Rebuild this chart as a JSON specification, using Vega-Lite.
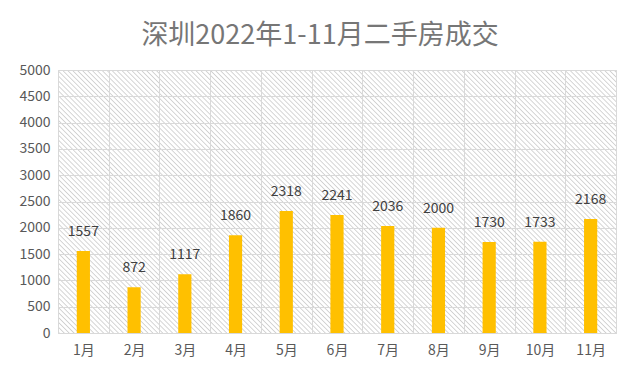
{
  "$schema": "https://vega.github.io/schema/vega-lite/v6.json",
  "width": 558,
  "height": 263,
  "autosize": {"type": "none"},
  "padding": {"left": 58, "top": 70, "right": 24, "bottom": 52},
  "background": "white",
  "title": {
    "text": "深圳2022年1-11月二手房成交",
    "fontSize": 27,
    "font": "Noto Sans CJK SC",
    "fontWeight": "normal",
    "color": "#767676",
    "offset": 13,
    "dx": -17
  },
  "data": {
    "values": [
      {"month": "1月", "value": 1557},
      {"month": "2月", "value": 872},
      {"month": "3月", "value": 1117},
      {"month": "4月", "value": 1860},
      {"month": "5月", "value": 2318},
      {"month": "6月", "value": 2241},
      {"month": "7月", "value": 2036},
      {"month": "8月", "value": 2000},
      {"month": "9月", "value": 1730},
      {"month": "10月", "value": 1733},
      {"month": "11月", "value": 2168}
    ]
  },
  "encoding": {
    "x": {
      "field": "month",
      "type": "nominal",
      "sort": null,
      "scale": {"paddingInner": 0, "paddingOuter": 0},
      "axis": {
        "title": null,
        "labelAngle": 0,
        "ticks": false,
        "domainColor": "#d9d9d9",
        "grid": true,
        "gridColor": "#d9d9d9",
        "tickBand": "extent",
        "labelFontSize": 14,
        "labelFont": "Noto Sans CJK SC",
        "labelColor": "#595959",
        "labelPadding": 10
      }
    },
    "y": {
      "field": "value",
      "type": "quantitative",
      "scale": {"domain": [0, 5000], "nice": false},
      "axis": {
        "title": null,
        "values": [0, 500, 1000, 1500, 2000, 2500, 3000, 3500, 4000, 4500, 5000],
        "format": "d",
        "ticks": false,
        "domain": false,
        "gridColor": "#d9d9d9",
        "labelFontSize": 14,
        "labelFont": "Noto Sans CJK SC",
        "labelColor": "#595959",
        "labelPadding": 8
      }
    }
  },
  "layer": [
    {"mark": {"type": "bar", "width": {"band": 0.26}, "color": "#FFC000"}},
    {
      "mark": {
        "type": "text",
        "dy": -15,
        "baseline": "alphabetic",
        "fontSize": 14,
        "font": "Noto Sans CJK SC",
        "color": "#404040"
      },
      "encoding": {"text": {"field": "value", "type": "quantitative"}}
    }
  ],
  "config": {
    "view": {
      "stroke": "#d9d9d9",
      "fill": {
        "gradient": "linear",
        "x1": 0, "y1": 1, "x2": 1.20389, "y2": 0.43257,
        "stops": [
{"offset":0,"color":"#fff"},{"offset":0.0015,"color":"#d0d0d0"},{"offset":0.003,"color":"#fff"},
{"offset":0.006,"color":"#fff"},{"offset":0.0075,"color":"#d0d0d0"},{"offset":0.009,"color":"#fff"},
{"offset":0.012,"color":"#fff"},{"offset":0.0135,"color":"#d0d0d0"},{"offset":0.015,"color":"#fff"},
{"offset":0.018,"color":"#fff"},{"offset":0.0195,"color":"#d0d0d0"},{"offset":0.021,"color":"#fff"},
{"offset":0.024,"color":"#fff"},{"offset":0.0255,"color":"#d0d0d0"},{"offset":0.027,"color":"#fff"},
{"offset":0.03,"color":"#fff"},{"offset":0.0315,"color":"#d0d0d0"},{"offset":0.033,"color":"#fff"},
{"offset":0.036,"color":"#fff"},{"offset":0.0375,"color":"#d0d0d0"},{"offset":0.039,"color":"#fff"},
{"offset":0.042,"color":"#fff"},{"offset":0.0435,"color":"#d0d0d0"},{"offset":0.045,"color":"#fff"},
{"offset":0.048,"color":"#fff"},{"offset":0.0495,"color":"#d0d0d0"},{"offset":0.051,"color":"#fff"},
{"offset":0.054,"color":"#fff"},{"offset":0.0555,"color":"#d0d0d0"},{"offset":0.057,"color":"#fff"},
{"offset":0.06,"color":"#fff"},{"offset":0.0615,"color":"#d0d0d0"},{"offset":0.063,"color":"#fff"},
{"offset":0.066,"color":"#fff"},{"offset":0.0675,"color":"#d0d0d0"},{"offset":0.069,"color":"#fff"},
{"offset":0.072,"color":"#fff"},{"offset":0.0735,"color":"#d0d0d0"},{"offset":0.075,"color":"#fff"},
{"offset":0.078,"color":"#fff"},{"offset":0.0795,"color":"#d0d0d0"},{"offset":0.081,"color":"#fff"},
{"offset":0.084,"color":"#fff"},{"offset":0.0855,"color":"#d0d0d0"},{"offset":0.087,"color":"#fff"},
{"offset":0.09,"color":"#fff"},{"offset":0.0915,"color":"#d0d0d0"},{"offset":0.093,"color":"#fff"},
{"offset":0.096,"color":"#fff"},{"offset":0.0975,"color":"#d0d0d0"},{"offset":0.099,"color":"#fff"},
{"offset":0.102,"color":"#fff"},{"offset":0.1035,"color":"#d0d0d0"},{"offset":0.105,"color":"#fff"},
{"offset":0.108,"color":"#fff"},{"offset":0.1095,"color":"#d0d0d0"},{"offset":0.111,"color":"#fff"},
{"offset":0.114,"color":"#fff"},{"offset":0.1155,"color":"#d0d0d0"},{"offset":0.117,"color":"#fff"},
{"offset":0.12,"color":"#fff"},{"offset":0.1215,"color":"#d0d0d0"},{"offset":0.123,"color":"#fff"},
{"offset":0.126,"color":"#fff"},{"offset":0.1275,"color":"#d0d0d0"},{"offset":0.129,"color":"#fff"},
{"offset":0.132,"color":"#fff"},{"offset":0.1335,"color":"#d0d0d0"},{"offset":0.135,"color":"#fff"},
{"offset":0.138,"color":"#fff"},{"offset":0.1395,"color":"#d0d0d0"},{"offset":0.141,"color":"#fff"},
{"offset":0.144,"color":"#fff"},{"offset":0.1455,"color":"#d0d0d0"},{"offset":0.147,"color":"#fff"},
{"offset":0.15,"color":"#fff"},{"offset":0.1515,"color":"#d0d0d0"},{"offset":0.153,"color":"#fff"},
{"offset":0.156,"color":"#fff"},{"offset":0.1575,"color":"#d0d0d0"},{"offset":0.159,"color":"#fff"},
{"offset":0.162,"color":"#fff"},{"offset":0.1635,"color":"#d0d0d0"},{"offset":0.165,"color":"#fff"},
{"offset":0.168,"color":"#fff"},{"offset":0.1695,"color":"#d0d0d0"},{"offset":0.171,"color":"#fff"},
{"offset":0.174,"color":"#fff"},{"offset":0.1755,"color":"#d0d0d0"},{"offset":0.177,"color":"#fff"},
{"offset":0.18,"color":"#fff"},{"offset":0.1815,"color":"#d0d0d0"},{"offset":0.183,"color":"#fff"},
{"offset":0.186,"color":"#fff"},{"offset":0.1875,"color":"#d0d0d0"},{"offset":0.189,"color":"#fff"},
{"offset":0.192,"color":"#fff"},{"offset":0.1935,"color":"#d0d0d0"},{"offset":0.195,"color":"#fff"},
{"offset":0.198,"color":"#fff"},{"offset":0.1995,"color":"#d0d0d0"},{"offset":0.201,"color":"#fff"},
{"offset":0.204,"color":"#fff"},{"offset":0.2055,"color":"#d0d0d0"},{"offset":0.207,"color":"#fff"},
{"offset":0.21,"color":"#fff"},{"offset":0.2115,"color":"#d0d0d0"},{"offset":0.213,"color":"#fff"},
{"offset":0.216,"color":"#fff"},{"offset":0.2175,"color":"#d0d0d0"},{"offset":0.219,"color":"#fff"},
{"offset":0.222,"color":"#fff"},{"offset":0.2235,"color":"#d0d0d0"},{"offset":0.225,"color":"#fff"},
{"offset":0.228,"color":"#fff"},{"offset":0.2295,"color":"#d0d0d0"},{"offset":0.231,"color":"#fff"},
{"offset":0.234,"color":"#fff"},{"offset":0.2355,"color":"#d0d0d0"},{"offset":0.237,"color":"#fff"},
{"offset":0.24,"color":"#fff"},{"offset":0.2415,"color":"#d0d0d0"},{"offset":0.243,"color":"#fff"},
{"offset":0.246,"color":"#fff"},{"offset":0.2475,"color":"#d0d0d0"},{"offset":0.249,"color":"#fff"},
{"offset":0.252,"color":"#fff"},{"offset":0.2535,"color":"#d0d0d0"},{"offset":0.255,"color":"#fff"},
{"offset":0.258,"color":"#fff"},{"offset":0.2595,"color":"#d0d0d0"},{"offset":0.261,"color":"#fff"},
{"offset":0.264,"color":"#fff"},{"offset":0.2655,"color":"#d0d0d0"},{"offset":0.267,"color":"#fff"},
{"offset":0.27,"color":"#fff"},{"offset":0.2715,"color":"#d0d0d0"},{"offset":0.273,"color":"#fff"},
{"offset":0.276,"color":"#fff"},{"offset":0.2775,"color":"#d0d0d0"},{"offset":0.279,"color":"#fff"},
{"offset":0.282,"color":"#fff"},{"offset":0.2835,"color":"#d0d0d0"},{"offset":0.285,"color":"#fff"},
{"offset":0.288,"color":"#fff"},{"offset":0.2895,"color":"#d0d0d0"},{"offset":0.291,"color":"#fff"},
{"offset":0.294,"color":"#fff"},{"offset":0.2955,"color":"#d0d0d0"},{"offset":0.297,"color":"#fff"},
{"offset":0.3,"color":"#fff"},{"offset":0.3015,"color":"#d0d0d0"},{"offset":0.303,"color":"#fff"},
{"offset":0.306,"color":"#fff"},{"offset":0.3075,"color":"#d0d0d0"},{"offset":0.309,"color":"#fff"},
{"offset":0.312,"color":"#fff"},{"offset":0.3135,"color":"#d0d0d0"},{"offset":0.315,"color":"#fff"},
{"offset":0.318,"color":"#fff"},{"offset":0.3195,"color":"#d0d0d0"},{"offset":0.321,"color":"#fff"},
{"offset":0.324,"color":"#fff"},{"offset":0.3255,"color":"#d0d0d0"},{"offset":0.327,"color":"#fff"},
{"offset":0.33,"color":"#fff"},{"offset":0.3315,"color":"#d0d0d0"},{"offset":0.333,"color":"#fff"},
{"offset":0.336,"color":"#fff"},{"offset":0.3375,"color":"#d0d0d0"},{"offset":0.339,"color":"#fff"},
{"offset":0.342,"color":"#fff"},{"offset":0.3435,"color":"#d0d0d0"},{"offset":0.345,"color":"#fff"},
{"offset":0.348,"color":"#fff"},{"offset":0.3495,"color":"#d0d0d0"},{"offset":0.351,"color":"#fff"},
{"offset":0.354,"color":"#fff"},{"offset":0.3555,"color":"#d0d0d0"},{"offset":0.357,"color":"#fff"},
{"offset":0.36,"color":"#fff"},{"offset":0.3615,"color":"#d0d0d0"},{"offset":0.363,"color":"#fff"},
{"offset":0.366,"color":"#fff"},{"offset":0.3675,"color":"#d0d0d0"},{"offset":0.369,"color":"#fff"},
{"offset":0.372,"color":"#fff"},{"offset":0.3735,"color":"#d0d0d0"},{"offset":0.375,"color":"#fff"},
{"offset":0.378,"color":"#fff"},{"offset":0.3795,"color":"#d0d0d0"},{"offset":0.381,"color":"#fff"},
{"offset":0.384,"color":"#fff"},{"offset":0.3855,"color":"#d0d0d0"},{"offset":0.387,"color":"#fff"},
{"offset":0.39,"color":"#fff"},{"offset":0.3915,"color":"#d0d0d0"},{"offset":0.393,"color":"#fff"},
{"offset":0.396,"color":"#fff"},{"offset":0.3975,"color":"#d0d0d0"},{"offset":0.399,"color":"#fff"},
{"offset":0.402,"color":"#fff"},{"offset":0.4035,"color":"#d0d0d0"},{"offset":0.405,"color":"#fff"},
{"offset":0.408,"color":"#fff"},{"offset":0.4095,"color":"#d0d0d0"},{"offset":0.411,"color":"#fff"},
{"offset":0.414,"color":"#fff"},{"offset":0.4155,"color":"#d0d0d0"},{"offset":0.417,"color":"#fff"},
{"offset":0.42,"color":"#fff"},{"offset":0.4215,"color":"#d0d0d0"},{"offset":0.423,"color":"#fff"},
{"offset":0.426,"color":"#fff"},{"offset":0.4275,"color":"#d0d0d0"},{"offset":0.429,"color":"#fff"},
{"offset":0.432,"color":"#fff"},{"offset":0.4335,"color":"#d0d0d0"},{"offset":0.435,"color":"#fff"},
{"offset":0.438,"color":"#fff"},{"offset":0.4395,"color":"#d0d0d0"},{"offset":0.441,"color":"#fff"},
{"offset":0.444,"color":"#fff"},{"offset":0.4455,"color":"#d0d0d0"},{"offset":0.447,"color":"#fff"},
{"offset":0.45,"color":"#fff"},{"offset":0.4515,"color":"#d0d0d0"},{"offset":0.453,"color":"#fff"},
{"offset":0.456,"color":"#fff"},{"offset":0.4575,"color":"#d0d0d0"},{"offset":0.459,"color":"#fff"},
{"offset":0.462,"color":"#fff"},{"offset":0.4635,"color":"#d0d0d0"},{"offset":0.465,"color":"#fff"},
{"offset":0.468,"color":"#fff"},{"offset":0.4695,"color":"#d0d0d0"},{"offset":0.471,"color":"#fff"},
{"offset":0.474,"color":"#fff"},{"offset":0.4755,"color":"#d0d0d0"},{"offset":0.477,"color":"#fff"},
{"offset":0.48,"color":"#fff"},{"offset":0.4815,"color":"#d0d0d0"},{"offset":0.483,"color":"#fff"},
{"offset":0.486,"color":"#fff"},{"offset":0.4875,"color":"#d0d0d0"},{"offset":0.489,"color":"#fff"},
{"offset":0.492,"color":"#fff"},{"offset":0.4935,"color":"#d0d0d0"},{"offset":0.495,"color":"#fff"},
{"offset":0.498,"color":"#fff"},{"offset":0.4995,"color":"#d0d0d0"},{"offset":0.501,"color":"#fff"},
{"offset":0.504,"color":"#fff"},{"offset":0.5055,"color":"#d0d0d0"},{"offset":0.507,"color":"#fff"},
{"offset":0.51,"color":"#fff"},{"offset":0.5115,"color":"#d0d0d0"},{"offset":0.513,"color":"#fff"},
{"offset":0.516,"color":"#fff"},{"offset":0.5175,"color":"#d0d0d0"},{"offset":0.519,"color":"#fff"},
{"offset":0.522,"color":"#fff"},{"offset":0.5235,"color":"#d0d0d0"},{"offset":0.525,"color":"#fff"},
{"offset":0.528,"color":"#fff"},{"offset":0.5295,"color":"#d0d0d0"},{"offset":0.531,"color":"#fff"},
{"offset":0.534,"color":"#fff"},{"offset":0.5355,"color":"#d0d0d0"},{"offset":0.537,"color":"#fff"},
{"offset":0.54,"color":"#fff"},{"offset":0.5415,"color":"#d0d0d0"},{"offset":0.543,"color":"#fff"},
{"offset":0.546,"color":"#fff"},{"offset":0.5475,"color":"#d0d0d0"},{"offset":0.549,"color":"#fff"},
{"offset":0.552,"color":"#fff"},{"offset":0.5535,"color":"#d0d0d0"},{"offset":0.555,"color":"#fff"},
{"offset":0.558,"color":"#fff"},{"offset":0.5595,"color":"#d0d0d0"},{"offset":0.561,"color":"#fff"},
{"offset":0.564,"color":"#fff"},{"offset":0.5655,"color":"#d0d0d0"},{"offset":0.567,"color":"#fff"},
{"offset":0.57,"color":"#fff"},{"offset":0.5715,"color":"#d0d0d0"},{"offset":0.573,"color":"#fff"},
{"offset":0.576,"color":"#fff"},{"offset":0.5775,"color":"#d0d0d0"},{"offset":0.579,"color":"#fff"},
{"offset":0.582,"color":"#fff"},{"offset":0.5835,"color":"#d0d0d0"},{"offset":0.585,"color":"#fff"},
{"offset":0.588,"color":"#fff"},{"offset":0.5895,"color":"#d0d0d0"},{"offset":0.591,"color":"#fff"},
{"offset":0.594,"color":"#fff"},{"offset":0.5955,"color":"#d0d0d0"},{"offset":0.597,"color":"#fff"},
{"offset":0.6,"color":"#fff"},{"offset":0.6015,"color":"#d0d0d0"},{"offset":0.603,"color":"#fff"},
{"offset":0.606,"color":"#fff"},{"offset":0.6075,"color":"#d0d0d0"},{"offset":0.609,"color":"#fff"},
{"offset":0.612,"color":"#fff"},{"offset":0.6135,"color":"#d0d0d0"},{"offset":0.615,"color":"#fff"},
{"offset":0.618,"color":"#fff"},{"offset":0.6195,"color":"#d0d0d0"},{"offset":0.621,"color":"#fff"},
{"offset":0.624,"color":"#fff"},{"offset":0.6255,"color":"#d0d0d0"},{"offset":0.627,"color":"#fff"},
{"offset":0.63,"color":"#fff"},{"offset":0.6315,"color":"#d0d0d0"},{"offset":0.633,"color":"#fff"},
{"offset":0.636,"color":"#fff"},{"offset":0.6375,"color":"#d0d0d0"},{"offset":0.639,"color":"#fff"},
{"offset":0.642,"color":"#fff"},{"offset":0.6435,"color":"#d0d0d0"},{"offset":0.645,"color":"#fff"},
{"offset":0.648,"color":"#fff"},{"offset":0.6495,"color":"#d0d0d0"},{"offset":0.651,"color":"#fff"},
{"offset":0.654,"color":"#fff"},{"offset":0.6555,"color":"#d0d0d0"},{"offset":0.657,"color":"#fff"},
{"offset":0.66,"color":"#fff"},{"offset":0.6615,"color":"#d0d0d0"},{"offset":0.663,"color":"#fff"},
{"offset":0.666,"color":"#fff"},{"offset":0.6675,"color":"#d0d0d0"},{"offset":0.669,"color":"#fff"},
{"offset":0.672,"color":"#fff"},{"offset":0.6735,"color":"#d0d0d0"},{"offset":0.675,"color":"#fff"},
{"offset":0.678,"color":"#fff"},{"offset":0.6795,"color":"#d0d0d0"},{"offset":0.681,"color":"#fff"},
{"offset":0.684,"color":"#fff"},{"offset":0.6855,"color":"#d0d0d0"},{"offset":0.687,"color":"#fff"},
{"offset":0.69,"color":"#fff"},{"offset":0.6915,"color":"#d0d0d0"},{"offset":0.693,"color":"#fff"},
{"offset":0.696,"color":"#fff"},{"offset":0.6975,"color":"#d0d0d0"},{"offset":0.699,"color":"#fff"},
{"offset":0.702,"color":"#fff"},{"offset":0.7035,"color":"#d0d0d0"},{"offset":0.705,"color":"#fff"},
{"offset":0.708,"color":"#fff"},{"offset":0.7095,"color":"#d0d0d0"},{"offset":0.711,"color":"#fff"},
{"offset":0.714,"color":"#fff"},{"offset":0.7155,"color":"#d0d0d0"},{"offset":0.717,"color":"#fff"},
{"offset":0.72,"color":"#fff"},{"offset":0.7215,"color":"#d0d0d0"},{"offset":0.723,"color":"#fff"},
{"offset":0.726,"color":"#fff"},{"offset":0.7275,"color":"#d0d0d0"},{"offset":0.729,"color":"#fff"},
{"offset":0.732,"color":"#fff"},{"offset":0.7335,"color":"#d0d0d0"},{"offset":0.735,"color":"#fff"},
{"offset":0.738,"color":"#fff"},{"offset":0.7395,"color":"#d0d0d0"},{"offset":0.741,"color":"#fff"},
{"offset":0.744,"color":"#fff"},{"offset":0.7455,"color":"#d0d0d0"},{"offset":0.747,"color":"#fff"},
{"offset":0.75,"color":"#fff"},{"offset":0.7515,"color":"#d0d0d0"},{"offset":0.753,"color":"#fff"},
{"offset":0.756,"color":"#fff"},{"offset":0.7575,"color":"#d0d0d0"},{"offset":0.759,"color":"#fff"},
{"offset":0.762,"color":"#fff"},{"offset":0.7635,"color":"#d0d0d0"},{"offset":0.765,"color":"#fff"},
{"offset":0.768,"color":"#fff"},{"offset":0.7695,"color":"#d0d0d0"},{"offset":0.771,"color":"#fff"},
{"offset":0.774,"color":"#fff"},{"offset":0.7755,"color":"#d0d0d0"},{"offset":0.777,"color":"#fff"},
{"offset":0.78,"color":"#fff"},{"offset":0.7815,"color":"#d0d0d0"},{"offset":0.783,"color":"#fff"},
{"offset":0.786,"color":"#fff"},{"offset":0.7875,"color":"#d0d0d0"},{"offset":0.789,"color":"#fff"},
{"offset":0.792,"color":"#fff"},{"offset":0.7935,"color":"#d0d0d0"},{"offset":0.795,"color":"#fff"},
{"offset":0.798,"color":"#fff"},{"offset":0.7995,"color":"#d0d0d0"},{"offset":0.801,"color":"#fff"},
{"offset":0.804,"color":"#fff"},{"offset":0.8055,"color":"#d0d0d0"},{"offset":0.807,"color":"#fff"},
{"offset":0.81,"color":"#fff"},{"offset":0.8115,"color":"#d0d0d0"},{"offset":0.813,"color":"#fff"},
{"offset":0.816,"color":"#fff"},{"offset":0.8175,"color":"#d0d0d0"},{"offset":0.819,"color":"#fff"},
{"offset":0.822,"color":"#fff"},{"offset":0.8235,"color":"#d0d0d0"},{"offset":0.825,"color":"#fff"},
{"offset":0.828,"color":"#fff"},{"offset":0.8295,"color":"#d0d0d0"},{"offset":0.831,"color":"#fff"},
{"offset":0.834,"color":"#fff"},{"offset":0.8355,"color":"#d0d0d0"},{"offset":0.837,"color":"#fff"},
{"offset":0.84,"color":"#fff"},{"offset":0.8415,"color":"#d0d0d0"},{"offset":0.843,"color":"#fff"},
{"offset":0.846,"color":"#fff"},{"offset":0.8475,"color":"#d0d0d0"},{"offset":0.849,"color":"#fff"},
{"offset":0.852,"color":"#fff"},{"offset":0.8535,"color":"#d0d0d0"},{"offset":0.855,"color":"#fff"},
{"offset":0.858,"color":"#fff"},{"offset":0.8595,"color":"#d0d0d0"},{"offset":0.861,"color":"#fff"},
{"offset":0.864,"color":"#fff"},{"offset":0.8655,"color":"#d0d0d0"},{"offset":0.867,"color":"#fff"},
{"offset":0.87,"color":"#fff"},{"offset":0.8715,"color":"#d0d0d0"},{"offset":0.873,"color":"#fff"},
{"offset":0.876,"color":"#fff"},{"offset":0.8775,"color":"#d0d0d0"},{"offset":0.879,"color":"#fff"},
{"offset":0.882,"color":"#fff"},{"offset":0.8835,"color":"#d0d0d0"},{"offset":0.885,"color":"#fff"},
{"offset":0.888,"color":"#fff"},{"offset":0.8895,"color":"#d0d0d0"},{"offset":0.891,"color":"#fff"},
{"offset":0.894,"color":"#fff"},{"offset":0.8955,"color":"#d0d0d0"},{"offset":0.897,"color":"#fff"},
{"offset":0.9,"color":"#fff"},{"offset":0.9015,"color":"#d0d0d0"},{"offset":0.903,"color":"#fff"},
{"offset":0.906,"color":"#fff"},{"offset":0.9075,"color":"#d0d0d0"},{"offset":0.909,"color":"#fff"},
{"offset":0.912,"color":"#fff"},{"offset":0.9135,"color":"#d0d0d0"},{"offset":0.915,"color":"#fff"},
{"offset":0.918,"color":"#fff"},{"offset":0.9195,"color":"#d0d0d0"},{"offset":0.921,"color":"#fff"},
{"offset":0.924,"color":"#fff"},{"offset":0.9255,"color":"#d0d0d0"},{"offset":0.927,"color":"#fff"},
{"offset":0.93,"color":"#fff"},{"offset":0.9315,"color":"#d0d0d0"},{"offset":0.933,"color":"#fff"},
{"offset":0.936,"color":"#fff"},{"offset":0.9375,"color":"#d0d0d0"},{"offset":0.939,"color":"#fff"},
{"offset":0.942,"color":"#fff"},{"offset":0.9435,"color":"#d0d0d0"},{"offset":0.945,"color":"#fff"},
{"offset":0.948,"color":"#fff"},{"offset":0.9495,"color":"#d0d0d0"},{"offset":0.951,"color":"#fff"},
{"offset":0.954,"color":"#fff"},{"offset":0.9555,"color":"#d0d0d0"},{"offset":0.957,"color":"#fff"},
{"offset":0.96,"color":"#fff"},{"offset":0.9615,"color":"#d0d0d0"},{"offset":0.963,"color":"#fff"},
{"offset":0.966,"color":"#fff"},{"offset":0.9675,"color":"#d0d0d0"},{"offset":0.969,"color":"#fff"},
{"offset":0.972,"color":"#fff"},{"offset":0.9735,"color":"#d0d0d0"},{"offset":0.975,"color":"#fff"},
{"offset":0.978,"color":"#fff"},{"offset":0.9795,"color":"#d0d0d0"},{"offset":0.981,"color":"#fff"},
{"offset":0.984,"color":"#fff"},{"offset":0.9855,"color":"#d0d0d0"},{"offset":0.987,"color":"#fff"},
{"offset":0.99,"color":"#fff"},{"offset":0.9915,"color":"#d0d0d0"},{"offset":0.993,"color":"#fff"},
{"offset":0.996,"color":"#fff"},{"offset":0.9975,"color":"#d0d0d0"},{"offset":0.999,"color":"#fff"},
{"offset":1,"color":"#fff"}
        ]
      }
    }
  }
}
